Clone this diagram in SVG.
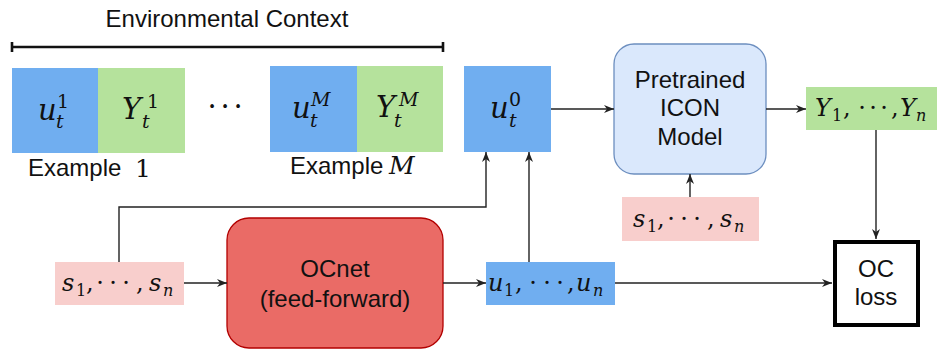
<svg xmlns="http://www.w3.org/2000/svg" width="938" height="350" viewBox="0 0 938 350">
<style>
.sans{font-family:"Liberation Sans",Arial,Helvetica,sans-serif;font-size:24px;fill:#111}
.m{font-family:"DejaVu Serif","Liberation Serif",serif;fill:#111}
.big{font-size:29px}
.mid{font-size:24px}
.i{font-style:italic}
.sc{font-size:19px}
.ss{font-size:16px}
.c{text-anchor:middle}
.blue{fill:#70aef0}
.green{fill:#b5e29c}
.pink{fill:#f8cecc}
.conn{fill:none;stroke:#222;stroke-width:1.4}
</style>
<defs>
<marker id="ah" viewBox="0 0 10 10" refX="10" refY="5" markerWidth="10" markerHeight="10" markerUnits="userSpaceOnUse" orient="auto">
<path d="M0,1 L10,5 L0,9 L3,5 z" fill="#222"/>
</marker>
</defs>

<g id="env-context">
<text class="sans c" x="227" y="27">Environmental Context</text>
<path d="M12,47 H443 M12,42 V52 M443,42 V52" fill="none" stroke="#111" stroke-width="2.6"/>
</g>

<g id="example1">
<rect class="blue" x="12" y="68" width="86" height="85"/>
<rect class="green" x="98" y="68" width="87" height="85"/>
<text class="m big"><tspan class="i" x="38" y="120">u</tspan><tspan class="sc" x="57" y="108">1</tspan><tspan class="sc i" x="56" y="128">t</tspan></text>
<text class="m big"><tspan class="i" x="122" y="119">Y</tspan><tspan class="sc" x="147" y="108">1</tspan><tspan class="sc i" x="142" y="128">t</tspan></text>
<text class="sans" x="28" y="176">Example</text>
<text class="m" font-size="25" x="135" y="177">1</text>
</g>

<g id="ellipsis">
<text class="m big c"><tspan x="212" y="116">·</tspan><tspan x="225" y="116">·</tspan><tspan x="238" y="116">·</tspan></text>
</g>

<g id="exampleM">
<rect class="blue" x="270" y="66" width="87" height="86"/>
<rect class="green" x="357" y="66" width="86" height="86"/>
<text class="m big"><tspan class="i" x="292" y="118">u</tspan><tspan class="sc i" x="311" y="106">M</tspan><tspan class="sc i" x="310" y="127">t</tspan></text>
<text class="m big"><tspan class="i" x="376" y="117">Y</tspan><tspan class="sc i" x="399" y="106">M</tspan><tspan class="sc i" x="394" y="127">t</tspan></text>
<text class="sans" x="290" y="174">Example</text>
<text class="m i" font-size="25" x="389" y="174">M</text>
</g>

<g id="u0">
<rect class="blue" x="464" y="66" width="87" height="86"/>
<text class="m big"><tspan class="i" x="490" y="118">u</tspan><tspan class="sc" x="509" y="106">0</tspan><tspan class="sc i" x="509" y="127">t</tspan></text>
</g>

<g id="icon">
<rect x="614" y="44" width="152" height="130" rx="20" fill="#dae8fc" stroke="#6c8ebf" stroke-width="1.3"/>
<text class="sans c" x="690" y="88">Pretrained</text>
<text class="sans c" x="690" y="116">ICON</text>
<text class="sans c" x="690" y="145">Model</text>
</g>

<g id="Y-out">
<rect class="green" x="806" y="87" width="131" height="43"/>
<text class="m mid"><tspan class="i" x="815" y="116">Y</tspan><tspan class="ss" x="832" y="121">1</tspan><tspan x="843" y="116">,</tspan></text>
<text class="m mid c"><tspan x="862" y="116">·</tspan><tspan x="873" y="116">·</tspan><tspan x="884" y="116">·</tspan></text>
<text class="m mid"><tspan x="891" y="116">,</tspan><tspan class="i" x="900" y="116">Y</tspan><tspan class="ss i" x="916" y="121">n</tspan></text>
</g>

<g id="s-icon">
<rect class="pink" x="622" y="197" width="137" height="44"/>
<text class="m mid"><tspan class="i" x="633" y="227">s</tspan><tspan class="ss" x="647" y="232">1</tspan><tspan x="657" y="227">,</tspan></text>
<text class="m mid c"><tspan x="671" y="227">·</tspan><tspan x="684" y="227">·</tspan><tspan x="697" y="227">·</tspan></text>
<text class="m mid"><tspan x="707" y="227">,</tspan><tspan class="i" x="720" y="227">s</tspan><tspan class="ss i" x="734" y="232">n</tspan></text>
</g>

<g id="s-in">
<rect class="pink" x="55" y="262" width="129" height="43"/>
<text class="m mid"><tspan class="i" x="62" y="291">s</tspan><tspan class="ss" x="76" y="296">1</tspan><tspan x="86" y="291">,</tspan></text>
<text class="m mid c"><tspan x="100" y="291">·</tspan><tspan x="113" y="291">·</tspan><tspan x="126" y="291">·</tspan></text>
<text class="m mid"><tspan x="136" y="291">,</tspan><tspan class="i" x="149" y="291">s</tspan><tspan class="ss i" x="163" y="296">n</tspan></text>
</g>

<g id="ocnet">
<rect x="227" y="218" width="216" height="130" rx="22" fill="#ea6b66" stroke="#b20000" stroke-width="1.3"/>
<text class="sans c" x="335" y="277">OCnet</text>
<text class="sans c" x="335" y="307">(feed-forward)</text>
</g>

<g id="u-out">
<rect class="blue" x="486" y="262" width="129" height="43"/>
<text class="m mid"><tspan class="i" x="488" y="291">u</tspan><tspan class="ss" x="504" y="296">1</tspan><tspan x="515" y="291">,</tspan></text>
<text class="m mid c"><tspan x="533" y="291">·</tspan><tspan x="547" y="291">·</tspan><tspan x="560" y="291">·</tspan></text>
<text class="m mid"><tspan x="567" y="291">,</tspan><tspan class="i" x="576" y="291">u</tspan><tspan class="ss i" x="593" y="296">n</tspan></text>
</g>

<g id="oc-loss">
<rect x="835" y="242" width="83" height="83" fill="#fff" stroke="#000" stroke-width="4"/>
<text class="sans c" x="876" y="277">OC</text>
<text class="sans c" x="876" y="305">loss</text>
</g>

<g id="connectors">
<path class="conn" d="M184,283 H227" marker-end="url(#ah)"/>
<path class="conn" d="M443,283 H486" marker-end="url(#ah)"/>
<path class="conn" d="M615,283 H832" marker-end="url(#ah)"/>
<path class="conn" d="M119,262 V207 H486 V152" marker-end="url(#ah)"/>
<path class="conn" d="M529,262 V152" marker-end="url(#ah)"/>
<path class="conn" d="M551,109 H614" marker-end="url(#ah)"/>
<path class="conn" d="M766,109 H806" marker-end="url(#ah)"/>
<path class="conn" d="M690,197 V174" marker-end="url(#ah)"/>
<path class="conn" d="M876,130 V239" marker-end="url(#ah)"/>
</g>
</svg>
